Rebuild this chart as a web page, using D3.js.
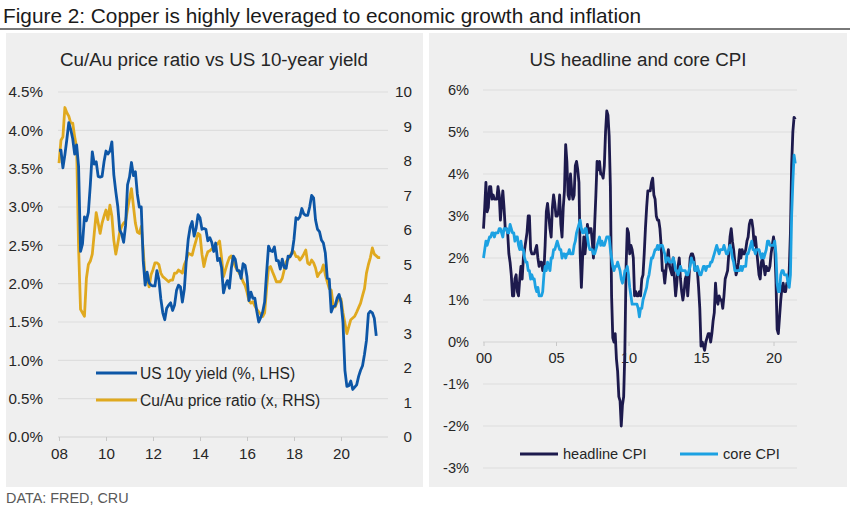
<!DOCTYPE html>
<html><head><meta charset="utf-8">
<script src="https://cdn.jsdelivr.net/npm/d3@7/dist/d3.min.js"></script>
<style>
html,body{margin:0;padding:0;background:#fff;}
svg{display:block;font-family:"Liberation Sans",Arial,sans-serif;}
</style></head>
<body><svg id="c" width="850" height="506"></svg>
<script>
// ---------- DATA ----------
// Left chart: monthly, starting Jan 2008
const yieldStart = 2008;
const us10y = [
 3.74,3.74,3.51,3.68,3.88,4.10,4.01,3.89,3.69,3.81,3.53,2.42,
 2.52,2.87,2.82,2.93,3.29,3.72,3.56,3.59,3.40,3.39,3.40,3.59,
 3.73,3.69,3.73,3.85,3.42,3.20,3.01,2.70,2.65,2.54,2.76,3.29,
 3.39,3.58,3.41,3.46,3.17,3.00,3.00,2.30,1.98,2.15,2.01,1.98,
 1.97,1.97,2.17,2.05,1.80,1.62,1.53,1.68,1.72,1.75,1.65,1.72,
 1.91,1.98,1.96,1.76,1.93,2.30,2.58,2.74,2.81,2.62,2.72,2.90,
 2.86,2.71,2.72,2.71,2.56,2.60,2.54,2.42,2.53,2.30,2.33,2.21,
 1.88,1.98,2.04,1.94,2.20,2.36,2.32,2.17,2.17,2.07,2.26,2.24,
 2.09,1.78,1.89,1.81,1.81,1.64,1.50,1.56,1.63,1.76,2.14,2.49,
 2.43,2.42,2.48,2.30,2.30,2.19,2.32,2.21,2.20,2.36,2.35,2.40,
 2.58,2.86,2.84,2.87,2.98,2.91,2.89,2.89,3.00,3.15,3.12,2.83,
 2.71,2.68,2.57,2.53,2.40,2.07,2.06,1.63,1.70,1.71,1.81,1.86,
 1.76,1.50,0.87,0.66,0.67,0.73,0.62,0.65,0.68,0.79,0.87,0.93,
 1.08,1.26,1.61,1.64,1.62,1.55,1.32
];
const cuAuRatio = [
 7.94,8.60,8.70,9.55,9.40,9.30,9.10,9.10,8.70,8.40,5.50,3.70,
 3.60,3.50,4.60,5.00,5.10,5.30,5.90,6.50,6.20,5.90,6.20,6.40,
 6.58,6.30,6.72,6.40,5.70,5.30,5.60,5.94,6.10,6.20,6.25,6.60,
 6.90,7.20,6.70,6.20,5.94,5.90,6.10,5.40,4.60,4.64,4.35,4.70,
 4.85,5.05,5.05,5.00,4.75,4.65,4.60,4.55,4.50,4.55,4.55,4.75,
 4.75,4.84,4.80,4.75,5.00,5.13,5.33,5.30,5.27,5.50,5.70,5.90,
 5.86,5.30,4.94,5.20,5.37,5.40,5.45,5.50,5.55,5.60,5.68,5.20,
 4.65,4.85,5.04,5.20,5.25,5.10,4.94,4.85,4.75,4.65,4.50,4.40,
 4.20,3.95,3.88,3.92,3.80,3.70,3.63,3.55,3.49,3.60,4.30,4.90,
 4.94,4.79,4.65,4.50,4.50,4.50,4.60,4.84,5.08,5.15,5.25,5.37,
 5.37,5.23,5.23,5.13,5.20,5.30,5.42,5.04,5.00,5.13,5.05,4.90,
 4.65,4.75,4.80,4.99,4.70,4.50,4.30,4.26,3.83,3.77,3.90,4.06,
 4.00,3.60,3.30,3.00,3.20,3.40,3.45,3.50,3.62,3.75,3.88,4.10,
 4.30,4.75,5.00,5.20,5.48,5.30,5.25,5.20,5.20
];
const leftYTicks = [0,0.5,1,1.5,2,2.5,3,3.5,4,4.5];
const rightYTicks = [0,1,2,3,4,5,6,7,8,9,10];
const leftXTicks = [2008,2010,2012,2014,2016,2018,2020];

// Right chart: monthly YoY %, starting Jan 2000
const cpiStart = 2000;
const headlineCPI = [
 2.7,3.2,3.8,3.1,3.2,3.7,3.7,3.4,3.5,3.4,3.4,3.4,
 3.7,3.5,2.9,3.3,3.6,3.2,2.7,2.7,2.6,2.1,1.9,1.6,
 1.1,1.1,1.5,1.6,1.2,1.1,1.5,1.8,1.5,2.0,2.2,2.4,
 2.6,3.0,3.0,2.2,2.1,2.1,2.1,2.2,2.3,2.0,1.8,1.9,
 1.9,1.7,1.7,2.3,3.1,3.3,3.0,2.7,2.5,3.2,3.5,3.3,
 3.0,3.0,3.1,3.5,2.8,2.5,3.2,3.6,4.7,4.3,3.5,3.4,
 4.0,3.6,3.4,3.5,4.2,4.3,4.1,3.8,2.1,1.3,2.0,2.5,
 2.1,2.4,2.8,2.6,2.7,2.7,2.4,2.0,2.8,3.5,4.3,4.1,
 4.3,4.0,4.0,3.9,4.2,5.0,5.5,5.4,4.9,3.7,1.1,0.1,
 0.0,0.2,-0.4,-0.7,-1.3,-1.4,-2.0,-1.5,-1.3,-0.2,1.8,2.7,
 2.6,2.1,2.3,2.2,2.0,1.1,1.2,1.1,1.1,1.2,1.1,1.5,
 1.6,2.1,2.7,3.2,3.6,3.6,3.6,3.8,3.9,3.5,3.4,3.0,
 2.9,2.9,2.7,2.3,1.7,1.7,1.4,1.7,2.0,2.2,1.8,1.7,
 1.6,2.0,1.5,1.1,1.4,1.8,2.0,1.5,1.2,1.0,1.2,1.5,
 1.6,1.1,1.5,2.0,2.1,2.1,2.0,1.7,1.7,1.7,1.3,0.8,
 -0.1,0.0,-0.1,-0.2,0.0,0.1,0.2,0.2,0.0,0.2,0.5,0.7,
 1.4,1.0,0.9,1.1,1.0,1.0,0.8,1.1,1.5,1.6,1.7,2.1,
 2.5,2.7,2.4,2.2,1.9,1.6,1.7,1.9,2.2,2.0,2.2,2.1,
 2.1,2.2,2.4,2.5,2.8,2.9,2.9,2.7,2.3,2.5,2.2,1.9,
 1.6,1.5,1.9,2.0,1.8,1.6,1.8,1.7,1.7,1.8,2.1,2.3,
 2.5,2.3,1.5,0.3,0.2,0.6,1.0,1.3,1.4,1.2,1.2,1.4,
 1.4,1.7,2.6,4.2,5.0,5.35,5.3
];
const coreCPI = [
 2.0,2.2,2.4,2.3,2.4,2.5,2.5,2.6,2.6,2.5,2.6,2.6,
 2.6,2.7,2.7,2.6,2.5,2.7,2.7,2.7,2.6,2.6,2.8,2.7,
 2.6,2.6,2.4,2.5,2.5,2.3,2.2,2.4,2.2,2.2,2.0,1.9,
 1.9,1.7,1.7,1.5,1.6,1.5,1.5,1.3,1.2,1.3,1.1,1.1,
 1.1,1.2,1.6,1.8,1.7,1.9,1.8,1.7,2.0,2.0,2.2,2.2,
 2.3,2.4,2.3,2.2,2.2,2.0,2.1,2.1,2.0,2.1,2.1,2.2,
 2.1,2.1,2.1,2.3,2.4,2.6,2.7,2.8,2.9,2.7,2.6,2.6,
 2.7,2.7,2.5,2.3,2.2,2.2,2.2,2.1,2.1,2.2,2.3,2.4,
 2.5,2.3,2.4,2.3,2.3,2.4,2.5,2.5,2.5,2.2,2.0,1.8,
 1.7,1.8,1.8,1.9,1.8,1.7,1.5,1.4,1.5,1.7,1.7,1.8,
 1.6,1.3,1.1,0.9,0.9,0.9,0.9,0.9,0.8,0.6,0.8,0.8,
 1.0,1.1,1.2,1.3,1.5,1.6,1.8,2.0,2.0,2.1,2.2,2.2,
 2.3,2.2,2.3,2.3,2.3,2.2,2.1,1.9,2.0,2.0,1.9,1.9,
 1.9,2.0,1.9,1.7,1.7,1.6,1.7,1.8,1.7,1.7,1.7,1.7,
 1.6,1.6,1.7,1.8,2.0,1.9,1.9,1.7,1.7,1.8,1.7,1.6,
 1.6,1.7,1.8,1.8,1.7,1.8,1.8,1.8,1.9,1.9,2.0,2.1,
 2.2,2.3,2.2,2.1,2.2,2.2,2.2,2.3,2.2,2.1,2.1,2.2,
 2.3,2.2,2.0,1.9,1.7,1.7,1.7,1.7,1.7,1.8,1.7,1.8,
 1.8,1.8,2.1,2.1,2.2,2.3,2.4,2.2,2.2,2.1,2.2,2.2,
 2.2,2.1,2.0,2.1,2.0,2.1,2.2,2.4,2.4,2.3,2.3,2.3,
 2.3,2.4,2.1,1.4,1.2,1.2,1.6,1.7,1.7,1.6,1.6,1.6,
 1.4,1.3,1.6,3.0,3.8,4.45,4.25
];
const cpiYTicks = [-3,-2,-1,0,1,2,3,4,5,6];
const cpiXTicks = [2000,2005,2010,2015,2020];

// ---------- DRAW ----------
const svg = d3.select("#c");
const FONT = '"Liberation Sans", Arial, sans-serif';
const toSeries = (arr, start) => arr.map((v,i)=>({t:start + i/12, v}));
const LW = 2.8;

// header
svg.append("text").attr("x",3).attr("y",23).attr("font-size",20.8).attr("fill","#1a1a1a")
  .text("Figure 2: Copper is highly leveraged to economic growth and inflation");
svg.append("line").attr("x1",0).attr("x2",850).attr("y1",29).attr("y2",29)
  .attr("stroke","#4d4d4d").attr("stroke-width",1.3);

// panels
svg.append("rect").attr("x",6).attr("y",33).attr("width",417).attr("height",454).attr("fill","#efefef");
svg.append("rect").attr("x",429).attr("y",33).attr("width",418).attr("height",454).attr("fill","#efefef");

// source
svg.append("text").attr("x",6).attr("y",503).attr("font-size",14.4).attr("fill","#595959")
  .text("DATA: FRED, CRU");

// ---- Left chart ----
{
  const x = d3.scaleLinear().domain([2008,2022]).range([59,388]);
  const yL = d3.scaleLinear().domain([0,4.5]).range([437,92]);
  const yR = d3.scaleLinear().domain([0,10]).range([437,92]);
  const g = svg.append("g");
  g.append("text").attr("x",214).attr("y",66).attr("text-anchor","middle")
    .attr("font-size",18.8).attr("fill","#262626").text("Cu/Au price ratio vs US 10-year yield");

  g.append("g").selectAll("line").data(leftYTicks).join("line")
    .attr("x1",58).attr("x2",388).attr("y1",d=>yL(d)).attr("y2",d=>yL(d))
    .attr("stroke",d=>d===0?"#d3d3d3":"#dedede").attr("stroke-width",1.2);

  const axL = g.append("g").attr("transform","translate(58,0)")
    .call(d3.axisLeft(yL).tickValues(leftYTicks).tickSize(0).tickPadding(15)
      .tickFormat(d=>d3.format(".1f")(d)+"%"));
  axL.select(".domain").remove();
  axL.selectAll("text").attr("font-size",15.2).attr("font-family",FONT).attr("fill","#262626");

  const axR = g.append("g").attr("transform","translate(412,0)")
    .call(d3.axisLeft(yR).tickValues(rightYTicks).tickSize(0).tickPadding(0)
      .tickFormat(d3.format("d")));
  axR.select(".domain").remove();
  axR.selectAll("text").attr("font-size",15.2).attr("font-family",FONT).attr("fill","#262626");

  const axB = g.append("g").attr("transform","translate(0,437)")
    .call(d3.axisBottom(x).tickValues(leftXTicks).tickSize(4).tickPadding(7)
      .tickFormat(d=>String(d%100).padStart(2,"0")));
  axB.select(".domain").remove();
  axB.selectAll("line").attr("stroke","#c8c8c8");
  axB.selectAll("text").attr("font-size",15.2).attr("font-family",FONT).attr("fill","#262626");

  const yd = toSeries(us10y, yieldStart);
  const rd = toSeries(cuAuRatio, yieldStart);
  g.append("path").datum(rd).attr("fill","none").attr("stroke","#e0a91f").attr("stroke-width",LW)
    .attr("stroke-linejoin","round")
    .attr("d", d3.line().x(d=>x(d.t)).y(d=>yR(d.v)));
  g.append("path").datum(yd).attr("fill","none").attr("stroke","#0d56a6").attr("stroke-width",LW)
    .attr("stroke-linejoin","round")
    .attr("d", d3.line().x(d=>x(d.t)).y(d=>yL(d.v)));

  const leg = [{n:"US 10y yield (%, LHS)",c:"#0d56a6",y:373},{n:"Cu/Au price ratio (x, RHS)",c:"#e0a91f",y:400}];
  leg.forEach(l=>{
    g.append("line").attr("x1",96).attr("x2",137).attr("y1",l.y).attr("y2",l.y)
      .attr("stroke",l.c).attr("stroke-width",3);
    g.append("text").attr("x",140).attr("y",l.y+5.5).attr("font-size",15.6).attr("fill","#262626").text(l.n);
  });
}

// ---- Right chart ----
{
  const x = d3.scaleLinear().domain([2000,2021.62]).range([483.5,797]);
  const y = d3.scaleLinear().domain([-3,6]).range([468,90]);
  const g = svg.append("g");
  g.append("text").attr("x",638).attr("y",66).attr("text-anchor","middle")
    .attr("font-size",18.8).attr("fill","#262626").text("US headline and core CPI");

  g.append("g").selectAll("line").data(cpiYTicks).join("line")
    .attr("x1",483).attr("x2",797).attr("y1",d=>y(d)).attr("y2",d=>y(d))
    .attr("stroke",d=>d===0?"#d3d3d3":"#dedede").attr("stroke-width",1.2);

  const axL = g.append("g").attr("transform","translate(483,0)")
    .call(d3.axisLeft(y).tickValues(cpiYTicks).tickSize(0).tickPadding(14)
      .tickFormat(d=>d+"%"));
  axL.select(".domain").remove();
  axL.selectAll("text").attr("font-size",14.6).attr("font-family",FONT).attr("fill","#262626");

  const axB = g.append("g").attr("transform",`translate(0,${y(0)})`)
    .call(d3.axisBottom(x).tickValues(cpiXTicks).tickSize(4).tickPadding(7)
      .tickFormat(d=>String(d%100).padStart(2,"0")));
  axB.select(".domain").remove();
  axB.selectAll("line").attr("stroke","#c8c8c8");
  axB.selectAll("text").attr("font-size",14.6).attr("font-family",FONT).attr("fill","#262626");

  const hd = toSeries(headlineCPI, cpiStart);
  const cd = toSeries(coreCPI, cpiStart);
  const line = d3.line().x(d=>x(d.t)).y(d=>y(d.v));
  g.append("path").datum(hd).attr("fill","none").attr("stroke","#1d1a4d").attr("stroke-width",LW)
    .attr("stroke-linejoin","round").attr("d",line);
  g.append("path").datum(cd).attr("fill","none").attr("stroke","#1ca1e2").attr("stroke-width",LW)
    .attr("stroke-linejoin","round").attr("d",line);

  const leg = [{n:"headline CPI",c:"#1d1a4d",x:520},{n:"core CPI",c:"#1ca1e2",x:680}];
  leg.forEach(l=>{
    g.append("line").attr("x1",l.x).attr("x2",l.x+38).attr("y1",454).attr("y2",454)
      .attr("stroke",l.c).attr("stroke-width",3);
    g.append("text").attr("x",l.x+43).attr("y",459).attr("font-size",14.6).attr("fill","#262626").text(l.n);
  });
}
</script></body></html>
